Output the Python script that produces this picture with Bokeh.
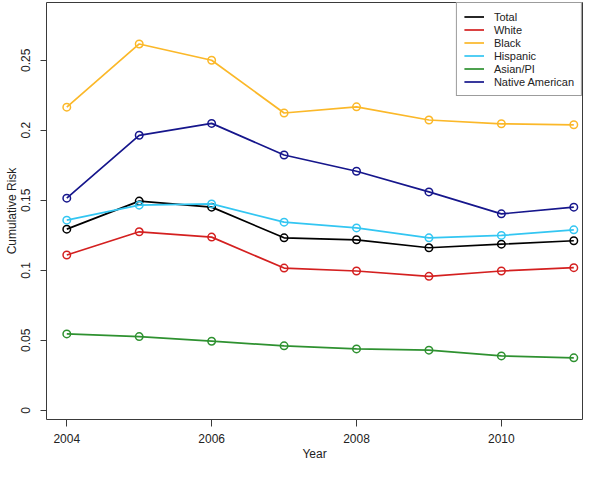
from bokeh.plotting import figure
from bokeh.models import FixedTicker, Range1d, Legend, LegendItem
from bokeh.embed import file_html
from bokeh.resources import INLINE

years = [2004, 2005, 2006, 2007, 2008, 2009, 2010, 2011]

total = [0.1294, 0.1494, 0.1451, 0.1232, 0.1218, 0.1161, 0.1187, 0.1211]
white = [0.1109, 0.1275, 0.1237, 0.1016, 0.0995, 0.0957, 0.0995, 0.1019]
black = [0.2165, 0.2616, 0.2500, 0.2123, 0.2167, 0.2073, 0.2046, 0.2039]
hispanic = [0.1358, 0.1465, 0.1474, 0.1344, 0.1303, 0.1232, 0.1249, 0.1289]
asian_pi = [0.0546, 0.0527, 0.0494, 0.0461, 0.0439, 0.0430, 0.0389, 0.0375]
native_american = [0.1515, 0.1964, 0.2049, 0.1823, 0.1707, 0.1560, 0.1403, 0.1451]

series_names = ["Total", "White", "Black", "Hispanic", "Asian/PI", "Native American"]
series_values = [total, white, black, hispanic, asian_pi, native_american]
series_colors = ["#000000", "#D42020", "#FBB829", "#33C6F2", "#2E9130", "#16168C"]

x_ticks = [2004, 2006, 2008, 2010]
y_ticks = [0, 0.05, 0.1, 0.15, 0.2, 0.25]
y_tick_labels = ["0", "0.05", "0.1", "0.15", "0.2", "0.25"]

FONT = "Liberation Sans"
TEXT = "#222222"
BOX = "#3a3a3a"

p = figure(width=584, height=463, output_backend="svg", toolbar_location=None,
           x_range=Range1d(2003.72, 2011.12),
           y_range=Range1d(-0.0065, 0.2912),
           min_border_left=46, min_border_right=2, min_border_top=2, min_border_bottom=44)

p.background_fill_color = "white"
p.border_fill_color = "white"
p.outline_line_color = BOX
p.outline_line_width = 1
p.xgrid.visible = False
p.ygrid.visible = False

for ax in (p.xaxis, p.yaxis):
    ax.axis_line_color = None
    ax.major_tick_line_color = BOX
    ax.major_tick_in = 0
    ax.minor_tick_line_color = None
    ax.major_label_text_font = FONT
    ax.major_label_text_font_size = "12px"
    ax.major_label_text_color = TEXT
    ax.axis_label_text_font = FONT
    ax.axis_label_text_font_size = "12px"
    ax.axis_label_text_font_style = "normal"
    ax.axis_label_text_color = TEXT

p.xaxis.ticker = FixedTicker(ticks=x_ticks)
p.xaxis.axis_label = "Year"
p.xaxis.major_tick_out = 7
p.xaxis.major_label_standoff = 7
p.xaxis.axis_label_standoff = 1

p.yaxis.ticker = FixedTicker(ticks=y_ticks)
p.yaxis.major_label_overrides = {t: l for t, l in zip(y_ticks, y_tick_labels)}
p.yaxis.major_label_orientation = "vertical"
p.yaxis.axis_label = "Cumulative Risk"
p.yaxis.major_tick_out = 6
p.yaxis.major_label_standoff = 10
p.yaxis.axis_label_standoff = 0

items = []
for name, vals, col in zip(series_names, series_values, series_colors):
    r = p.line(years, vals, line_color=col, line_width=1.7)
    p.scatter(years, vals, marker="circle", size=7.5, fill_color=None,
              line_color=col, line_width=1.5)
    items.append(LegendItem(label=name, renderers=[r]))

legend = Legend(items=items, location="top_right")
legend.label_text_font = FONT
legend.label_text_font_size = "11px"
legend.label_text_color = TEXT
legend.label_height = 13
legend.glyph_height = 13
legend.glyph_width = 20
legend.label_standoff = 10
legend.spacing = 0
legend.padding = 7
legend.margin = 0
legend.border_line_color = BOX
legend.border_line_width = 1
legend.background_fill_alpha = 1
p.add_layout(legend)

open("out.html", "w").write(file_html(p, INLINE))
